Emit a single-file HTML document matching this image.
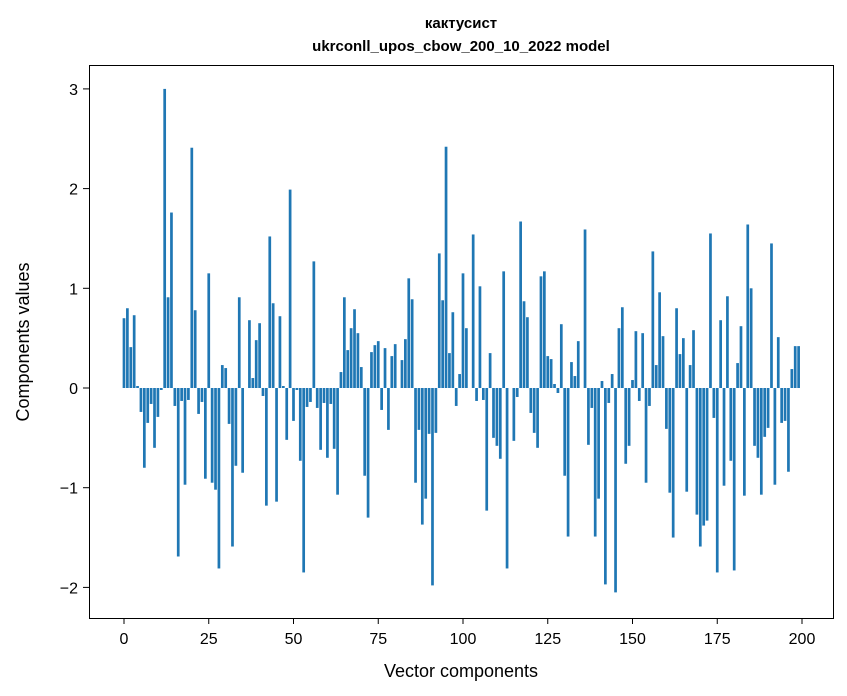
<!DOCTYPE html>
<html><head><meta charset="utf-8"><style>
html,body{margin:0;padding:0;background:#fff;}
svg{display:block;font-family:"Liberation Sans","DejaVu Sans",sans-serif;}
</style></head><body>
<svg id="chart" width="847" height="696" viewBox="0 0 847 696">
<rect x="0" y="0" width="847" height="696" fill="#fff"/>
<text x="461" y="28" text-anchor="middle" font-size="15" font-weight="bold" font-family="Liberation Sans, DejaVu Sans, sans-serif">кактусист</text>
<text x="461" y="51" text-anchor="middle" font-size="15" font-weight="bold">ukrconll_upos_cbow_200_10_2022 model</text>
<g id="bars"></g>
<g id="xticks"></g>
<g id="yticks"></g>
<rect x="89.5" y="65.5" width="744" height="553" fill="none" stroke="#000" stroke-width="1"/>
<text x="461" y="677" text-anchor="middle" font-size="18">Vector components</text>
<text x="0" y="0" transform="translate(29,342) rotate(-90)" text-anchor="middle" font-size="18">Components values</text>
</svg>
<script>
const values = [0.70,0.80,0.41,0.73,0.02,-0.24,-0.80,-0.35,-0.16,-0.60,-0.29,-0.02,3.0,0.91,1.76,-0.18,-1.69,-0.13,-0.97,-0.12,
2.41,0.78,-0.26,-0.14,-0.91,1.15,-0.95,-1.02,-1.81,0.23,0.20,-0.36,-1.59,-0.78,0.91,-0.85,0.0,0.68,0.10,0.48,
0.65,-0.08,-1.18,1.52,0.85,-1.14,0.72,0.02,-0.52,1.99,-0.33,-0.02,-0.73,-1.85,-0.19,-0.14,1.27,-0.20,-0.62,-0.15,
-0.70,-0.16,-0.61,-1.07,0.16,0.91,0.38,0.60,0.79,0.55,0.21,-0.88,-1.30,0.36,0.43,0.47,-0.22,0.40,-0.42,0.32,
0.44,0.0,0.28,0.49,1.10,0.89,-0.95,-0.42,-1.37,-1.11,-0.46,-1.98,-0.45,1.35,0.88,2.42,0.35,0.76,-0.18,0.14,
1.15,0.60,0.0,1.54,-0.13,1.02,-0.12,-1.23,0.35,-0.50,-0.58,-0.71,1.17,-1.81,0.0,-0.53,-0.09,1.67,0.87,0.71,
-0.25,-0.45,-0.60,1.12,1.17,0.32,0.29,0.04,-0.05,0.64,-0.88,-1.49,0.26,0.12,0.47,0.0,1.59,-0.57,-0.20,-1.49,
-1.11,0.07,-1.97,-0.15,0.14,-2.05,0.60,0.81,-0.76,-0.58,0.08,0.57,-0.13,0.55,-0.95,-0.18,1.37,0.23,0.96,0.52,
-0.41,-1.05,-1.50,0.80,0.34,0.50,-1.04,0.23,0.58,-1.27,-1.59,-1.38,-1.33,1.55,-0.30,-1.85,0.68,-0.98,0.92,-0.73,
-1.83,0.25,0.62,-1.08,1.64,1.00,-0.58,-0.70,-1.07,-0.49,-0.40,1.45,-0.97,0.51,-0.35,-0.33,-0.84,0.19,0.42,0.42];
const xTickLabels = ["0","25","50","75","100","125","150","175","200"];
const yTickLabels = ["−2","−1","0","1","2","3"];
const xTickValues = [0,25,50,75,100,125,150,175,200];
const yTickValues = [-2,-1,0,1,2,3];

const NS = "http://www.w3.org/2000/svg";
function xScale(i){ return 124 + (802-124)/200 * i; }
function yScale(v){ return 388 - 99.7 * v; }
const bw = 0.8 * (802-124)/200;

const bars = document.getElementById('bars');
values.forEach((v,i)=>{
  const r = document.createElementNS(NS,'rect');
  const y0 = yScale(0), y1 = yScale(v);
  r.setAttribute('x', xScale(i) - bw/2);
  r.setAttribute('y', Math.min(y0,y1));
  r.setAttribute('width', bw);
  r.setAttribute('height', Math.abs(y1-y0));
  r.setAttribute('fill', '#1f77b4');
  
  
  bars.appendChild(r);
});

const xt = document.getElementById('xticks');
xTickValues.forEach((t,k)=>{
  const x = xScale(t);
  const l = document.createElementNS(NS,'line');
  l.setAttribute('x1',x); l.setAttribute('x2',x);
  l.setAttribute('y1',618); l.setAttribute('y2',624);
  l.setAttribute('stroke','#000');
  
  
  xt.appendChild(l);
  const tx = document.createElementNS(NS,'text');
  tx.setAttribute('x',x); tx.setAttribute('y',644);
  tx.setAttribute('text-anchor','middle'); tx.setAttribute('font-size','16');
  tx.textContent = xTickLabels[k];
  
  
  xt.appendChild(tx);
});

const yt = document.getElementById('yticks');
yTickValues.forEach((t,k)=>{
  const y = yScale(t);
  const l = document.createElementNS(NS,'line');
  l.setAttribute('x1',83); l.setAttribute('x2',89);
  l.setAttribute('y1',y); l.setAttribute('y2',y);
  l.setAttribute('stroke','#000');
  
  
  yt.appendChild(l);
  const tx = document.createElementNS(NS,'text');
  tx.setAttribute('x',78); tx.setAttribute('y',y+6);
  tx.setAttribute('text-anchor','end'); tx.setAttribute('font-size','16');
  tx.textContent = yTickLabels[k];
  
  
  yt.appendChild(tx);
});
</script>
</body></html>
